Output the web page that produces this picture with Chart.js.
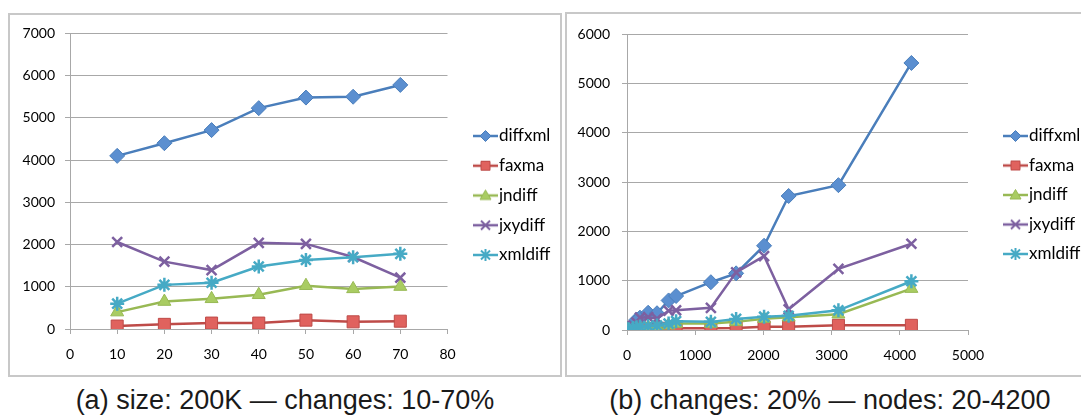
<!DOCTYPE html>
<html>
<head>
<meta charset="utf-8">
<script src="https://cdn.jsdelivr.net/npm/chart.js@4"></script>
<style>
  body { margin: 0; width: 1081px; height: 415px; overflow: hidden; background: #fff; position: relative; }
  .box { position: absolute; box-sizing: border-box; border: 2px solid #c8c8c8; background: #fff; }
  .box canvas { position: absolute; left: 0; top: 0; }
  .cap { position: absolute; font-family: "Liberation Sans", Arial, sans-serif; font-size: 27px; line-height: 27px; color: #1a1a1a; text-align: center; white-space: nowrap; }
</style>
</head>
<body>
<div class="box" style="left:8px;top:13px;width:554px;height:364px"><canvas id="chartA" width="550" height="360"></canvas></div>
<div class="box" style="left:565px;top:12px;width:530px;height:365px"><canvas id="chartB" width="526" height="361"></canvas></div>
<div class="cap" style="left:8px;width:554px;top:387px">(a) size: 200K — changes: 10-70%</div>
<div class="cap" style="left:565px;width:530px;top:387px">(b) changes: 20% — nodes: 20-4200</div>

<script>
// tools compared
const tools = ['diffxml', 'faxma', 'jndiff', 'jxydiff', 'xmldiff'];

// (a) size 200K, changes in %
const changesPct = [10, 20, 30, 40, 50, 60, 70];
const diffxmlA = [4100, 4400, 4710, 5230, 5480, 5500, 5780];
const faxmaA   = [70, 110, 140, 140, 210, 170, 185];
const jndiffA  = [400, 650, 715, 810, 1025, 950, 1005];
const jxydiffA = [2060, 1595, 1395, 2040, 2015, 1705, 1215];
const xmldiffA = [600, 1045, 1095, 1480, 1635, 1700, 1780];

// (b) changes 20%, number of nodes
const nodes    = [20, 90, 140, 190, 310, 440, 610, 720, 1230, 1600, 2010, 2370, 3100, 4170];
const diffxmlB = [30, 110, 210, 250, 350, 340, 600, 690, 970, 1150, 1710, 2720, 2940, 5420];
const faxmaB   = [10, 15, 20, 20, 25, 25, 35, 35, 35, 40, 65, 65, 95, 95];
const jndiffB  = [10, 25, 35, 45, 55, 60, 95, 130, 130, 165, 230, 260, 320, 840];
const jxydiffB = [20, 90, 150, 250, 260, 230, 390, 400, 450, 1170, 1500, 420, 1240, 1750];
const xmldiffB = [15, 40, 55, 70, 80, 90, 130, 180, 165, 225, 270, 290, 400, 990];

const lineColors = ['#4a7ebb', '#be4b48', '#98b954', '#7d60a0', '#46aac5'];
const fillColors = ['#5b8fd0', '#e0625e', '#a9cc62', '#7d60a0', '#46aac5'];
const markers = ['rectRot', 'rect', 'triangle', 'crossRot', 'star'];
const radii = [7.5, 8.5, 7.5, 7, 7];

// little line + marker picture for the legend
function legendIcon(i) {
    const w = 25;
    const c = document.createElement('canvas');
    c.width = w; c.height = 16;
    const g = c.getContext('2d');
    g.strokeStyle = lineColors[i];
    g.lineWidth = 2.5;
    g.beginPath(); g.moveTo(0, 8); g.lineTo(w, 8); g.stroke();
    const cx = 12.5, cy = 8, r = 5.5;
    g.fillStyle = fillColors[i];
    g.lineWidth = 1;
    g.beginPath();
    if (markers[i] === 'rectRot') {
        g.moveTo(cx, cy - r); g.lineTo(cx + r, cy); g.lineTo(cx, cy + r); g.lineTo(cx - r, cy); g.closePath();
        g.fill(); g.stroke();
    } else if (markers[i] === 'rect') {
        g.rect(cx - 4.5, cy - 4.5, 9, 9); g.fill(); g.stroke();
    } else if (markers[i] === 'triangle') {
        g.moveTo(cx, cy - r); g.lineTo(cx + r, cy + 4); g.lineTo(cx - r, cy + 4); g.closePath();
        g.fill(); g.stroke();
    } else {
        g.lineWidth = 2;
        const d = 4.5;
        g.moveTo(cx - d, cy - d); g.lineTo(cx + d, cy + d);
        g.moveTo(cx + d, cy - d); g.lineTo(cx - d, cy + d);
        if (markers[i] === 'star') { g.moveTo(cx, cy - 6); g.lineTo(cx, cy + 6); g.moveTo(cx - 6, cy); g.lineTo(cx + 6, cy); }
        g.stroke();
    }
    return c;
}
const icons = tools.map((t, i) => legendIcon(i));

// legend on the right, Excel style (line + marker, then name)
const sideLegend = {
    id: 'sideLegend',
    afterDraw(chart, args, o) {
        const ctx = chart.ctx;
        const x = chart.chartArea.right + o.gap;
        ctx.save();
        ctx.font = '17px Lato';
        ctx.fillStyle = '#000';
        ctx.textBaseline = 'middle';
        tools.forEach((t, i) => {
            const y = o.top + i * o.step;
            ctx.drawImage(icons[i], x, y - 8);
            ctx.fillText(t, x + 26, y);
        });
        ctx.restore();
    }
};

function makeDatasets(xs, series) {
    return series.map((ys, i) => ({
        label: tools[i],
        data: xs.map((x, k) => ({ x: x, y: ys[k] })),
        borderColor: lineColors[i],
        backgroundColor: fillColors[i],
        borderWidth: 2.5,
        pointStyle: markers[i],
        pointRadius: radii[i],
        pointBorderColor: markers[i] === 'crossRot' || markers[i] === 'star' ? fillColors[i] : lineColors[i],
        pointBorderWidth: markers[i] === 'crossRot' || markers[i] === 'star' ? 2.5 : 1,
        pointBackgroundColor: fillColors[i],
        tension: 0,
        order: 5 - i
    }));
}

function renderChart(id, xs, series, opt) {
    const ctx = document.getElementById(id).getContext('2d');
    new Chart(ctx, {
        type: 'line',
        data: { datasets: makeDatasets(xs, series) },
        plugins: [sideLegend],
        options: {
            responsive: false,
            animation: false,
            layout: { padding: { left: 0, right: opt.right, top: opt.top, bottom: 0 } },
            scales: {
                x: {
                    type: 'linear', min: 0, max: opt.xMax,
                    ticks: { stepSize: opt.xStep, padding: 12, color: '#000', font: { family: 'Lato', size: 14 }, callback: v => String(v) },
                    grid: { drawOnChartArea: false, tickLength: 5, color: '#a8a8a8' },
                    border: { color: '#a8a8a8' },
                    afterFit: s => { s.height = opt.xH; }
                },
                y: {
                    min: 0, max: opt.yMax,
                    ticks: { stepSize: 1000, padding: opt.yPad, color: '#000', font: { family: 'Lato', size: 14 }, callback: v => String(v) },
                    grid: { tickLength: 5, color: '#a8a8a8' },
                    border: { color: '#a8a8a8' },
                    afterFit: s => { s.width = 60; }
                }
            },
            plugins: {
                tooltip: { enabled: false },
                legend: { display: false },
                sideLegend: opt.legend
            }
        }
    });
}

renderChart('chartA', changesPct, [diffxmlA, faxmaA, jndiffA, jxydiffA, xmldiffA],
    { xMax: 80, xStep: 10, yMax: 7000, top: 14, right: 112.5, xH: 46, yPad: 10,
      legend: { gap: 25.5, top: 121, step: 29.75 } });
renderChart('chartB', nodes, [diffxmlB, faxmaB, jndiffB, jxydiffB, xmldiffB],
    { xMax: 5000, xStep: 1000, yMax: 6000, top: 13, right: 125, xH: 45, yPad: 12,
      legend: { gap: 35, top: 122, step: 29.5 } });
</script>
</body>
</html>
